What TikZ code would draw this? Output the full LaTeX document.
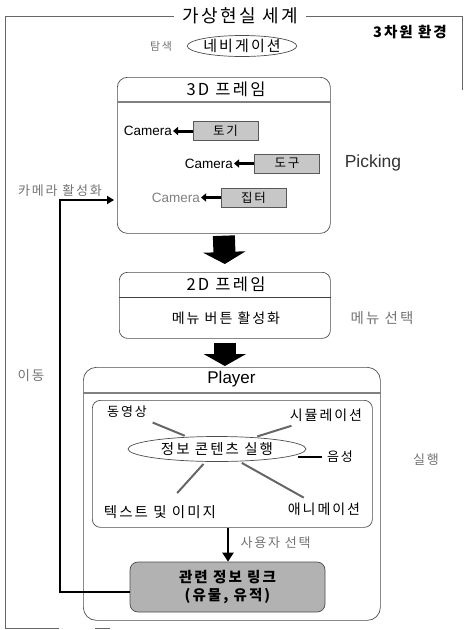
\documentclass[tikz,border=0pt]{standalone}
\usepackage{fontspec}
\setmainfont[LetterSpace=14]{Noto Sans CJK KR}
\newfontfamily\lat{Liberation Sans}
\usetikzlibrary{arrows.meta,shapes.geometric}
\newcommand{\fs}[1]{\fontsize{#1}{#1}\selectfont}
\begin{document}
\begin{tikzpicture}[x=1pt,y=-1pt,
  outer/.style={draw=black!60, line width=0.6pt},
  boxline/.style={draw=black!70, line width=0.7pt},
  hdr/.style={draw=black!50, line width=1.8pt},
  gtext/.style={text=black!55},
  camtext/.style={font=\lat\fs{13.5}, inner sep=1pt},
  camarrow/.style={line width=3pt, -{Triangle[length=5pt,width=8pt]}},
  objbox/.style={draw=black!65, fill=black!22, line width=0.6pt, minimum width=65pt, minimum height=19pt, inner sep=0pt, font=\fs{12.5}},
  bigarrow/.style={line width=22pt, -{Triangle[length=12pt,width=42pt]}, draw=black},
  spoke/.style={draw=black!60, line width=2pt, shorten <=3pt, shorten >=3pt},
  link/.style={line width=2.4pt, draw=black}
]
\useasboundingbox (0,0) rectangle (466,630);

% outer frame
\node[font=\fs{18}, inner sep=2pt] (title) at (240,16) {가상현실 세계};
\coordinate (otl) at (5,16);
\coordinate (obl) at (5,628);
\draw[outer] (title.west) ++(-6pt,0) -- (otl) -- (obl) -- ++(54,0);
\draw[outer] (title.east) ++(6pt,0) -- (462,16) -- (462,90);
\draw[outer] (95,628) -- (110,628);

\node[font=\bfseries\fs{14.5}] (env) at (410,32) {3차원 환경};

% navigation
\node[gtext, font=\fs{11}] (tam) at (161,46) {탐색};
\node[ellipse, draw=black!70, line width=0.7pt, minimum width=98pt, minimum height=21pt, inner sep=0pt, font=\fs{15}] (nav) at (242,46) {네비게이션};

% 3D frame
\node[boxline, rounded corners=10pt, minimum width=213pt, minimum height=156pt, anchor=north west] (f3d) at (117,77) {};
\node[font=\fs{16.5}] (t3d) at (226,89) {3D 프레임};
\draw[hdr] (f3d.west |- 0,102) -- (f3d.east |- 0,102);

\node[objbox] (o1) at (225.5,131) {토기};
\node[camtext, anchor=east] (c1) at (173,131) {Camera};
\draw[camarrow] (o1.west) -- (c1.east);

\node[objbox] (o2) at (287,163.5) {도구};
\node[camtext, anchor=east] (c2) at (234,163.5) {Camera};
\draw[camarrow] (o2.west) -- (c2.east);

\node[objbox] (o3) at (253.5,197.5) {집터};
\node[camtext, anchor=east, text=black!50] (c3) at (201,197.5) {Camera};
\draw[camarrow] (o3.west) -- (c3.east);

\node[font=\lat\fs{17.5}, text=black!80] (pick) at (373,163) {Picking};
\node[gtext, font=\fs{13}] (camact) at (60,191) {카메라 활성화};

% 2D frame
\node[boxline, rounded corners=8pt, minimum width=211pt, minimum height=66pt, anchor=north west] (f2d) at (119,272) {};
\node[font=\fs{16.5}] (t2d) at (226,284) {2D 프레임};
\draw[draw=black!75, line width=1pt] (f2d.west |- 0,297) -- (f2d.east |- 0,297);
\node[font=\fs{14}] (menu) at (226,318) {메뉴 버튼 활성화};
\node[gtext, font=\fs{14.5}] (msel) at (382,318) {메뉴 선택};

\draw[bigarrow] ([yshift=-2pt]f3d.south) -- ([yshift=8pt]f2d.north);

% Player
\node[boxline, rounded corners=13pt, minimum width=297pt, minimum height=253pt, anchor=north west] (fpl) at (83,367) {};
\node[font=\lat\fs{17}] (tpl) at (231.5,379) {Player};
\draw[hdr] (fpl.west |- 0,393) -- (fpl.east |- 0,393);

\draw[bigarrow] ([yshift=-4pt]f2d.south) -- ([yshift=1pt]f2d.south |- fpl.north);

\node[gtext, font=\fs{13.5}] (move) at (31,375) {이동};
\node[gtext, font=\fs{13}] (run) at (426,460) {실행};

\node[boxline, rounded corners=8pt, minimum width=280pt, minimum height=127pt, anchor=north west] (inner) at (92,400) {};

\node[ellipse, draw=black!70, line width=0.7pt, minimum width=178pt, minimum height=25pt, inner sep=0pt, font=\fs{14.5}] (exec) at (217,449) {정보 콘텐츠 실행};
\node[font=\fs{13}] (vid) at (127,412) {동영상};
\node[font=\fs{14}] (sim) at (326,415) {시뮬레이션};
\node[font=\fs{14.5}] (txt) at (160,512) {텍스트 및 이미지};
\node[font=\fs{14}] (ani) at (324,509) {애니메이션};
\node[font=\fs{13}] (snd) at (340,457) {음성};

\draw[spoke] (vid) -- (exec);
\draw[spoke] (sim) -- (exec);
\draw[spoke, shorten <=12pt] (txt) -- (exec);
\draw[spoke] (ani) -- (exec);
\draw[draw=black, line width=1.6pt] (snd.west) ++(-2pt,0) -- ++(-24pt,0);

% user selection
\node[draw=black!70, fill=black!30, line width=0.7pt, rounded corners=8pt, minimum width=195pt, minimum height=50pt, align=center, font=\bfseries\fs{14.5}] (lnk) at (227.5,587) {관련 정보 링크\\[3pt](유물, 유적)};
\draw[line width=2.6pt, -{Triangle[length=9pt,width=11pt]}] (inner.south -| 0,0) ++(228,0) coordinate (sa) -- (sa |- lnk.north);
\node[gtext, font=\fs{13}, anchor=west] (usel) at (237,543) {사용자 선택};

% move link
\coordinate (lk) at (60,592);
\draw[link] (lnk.west |- lk) -- (lk) -- (60,200) -- ([xshift=-4pt]f3d.west |- 0,200);
\draw[line width=2.4pt, -{Triangle[length=7pt,width=8pt]}] (80,200) -- ([xshift=-3pt]f3d.west |- 0,200);
\end{tikzpicture}
\end{document}
